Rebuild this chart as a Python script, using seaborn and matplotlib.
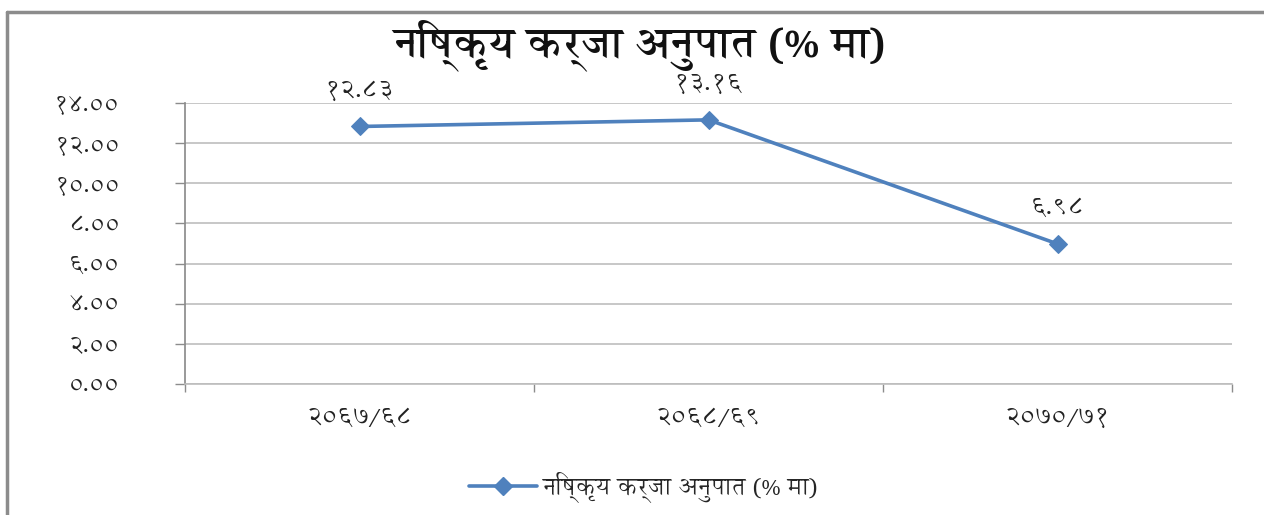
import matplotlib
matplotlib.use("Agg")
import matplotlib.pyplot as plt
from matplotlib import font_manager
from matplotlib.lines import Line2D
import seaborn as sns
import pandas as pd

# data
years = ["२०६७/६८", "२०६८/६९", "२०७०/७१"]
npl_ratio = [12.83, 13.16, 6.98]
title = "निष्कृय कर्जा अनुपात (% मा)"
y_ticks = [0, 2, 4, 6, 8, 10, 12, 14]

DEV = str.maketrans("0123456789", "०१२३४५६७८९")

def dev(num, fmt="{:.2f}"):
    return fmt.format(num).translate(DEV)

# Annapurna SIL has the nepali style digits of the original
names = {f.name for f in font_manager.fontManager.ttflist}
dev_font = "Annapurna SIL"
if dev_font not in names:
    dev_font = "Lohit Devanagari" if "Lohit Devanagari" in names else "Noto Sans Devanagari"

sns.set_theme(style="white")
plt.rcParams["font.family"] = [dev_font, "DejaVu Sans"]

df = pd.DataFrame({"year": years, "ratio": npl_ratio})

fig = plt.figure(figsize=(12.64, 5.15), dpi=100)
ax = fig.add_axes([0.1464, 0.2544, 0.8283, 0.5456])

blue = "#4F81BD"
sns.lineplot(data=df, x="year", y="ratio", ax=ax, color=blue, linewidth=2.6,
             marker="D", markersize=9, markeredgecolor=blue, sort=False,
             label=title, legend=False)

for i, v in enumerate(npl_ratio):
    ax.annotate(dev(v), (i, v), xytext=(0, 25), textcoords="offset points",
                ha="center", va="center", fontsize=19, color="#222222")

ax.set_xlim(-0.5, 2.5)
ax.set_ylim(0, 14)
ax.set_yticks(y_ticks)
ax.set_yticklabels([dev(t) for t in y_ticks], fontsize=18, color="#222222")
ax.set_xticks(range(len(years)))
ax.set_xticklabels(years, fontsize=19, color="#222222")
ax.set_xticks([-0.5, 0.5, 1.5, 2.5], minor=True)
ax.tick_params(axis="x", which="major", length=0, pad=17)
ax.tick_params(axis="x", which="minor", length=6, color="#8c8c8c", width=1, bottom=True)
ax.tick_params(axis="y", length=7, color="#8c8c8c", width=1, pad=40, left=True)
ax.set_xlabel("")
ax.set_ylabel("")

ax.yaxis.grid(True, color="#bdbdbd", linewidth=1.2)
ax.xaxis.grid(False)
for side in ["top", "right"]:
    ax.spines[side].set_visible(False)
ax.spines["left"].set_color("#8c8c8c")
ax.spines["bottom"].set_color("#bdbdbd")
ax.spines["bottom"].set_linewidth(1.2)

fig.text(0.506, 0.913, title, ha="center", va="center", fontsize=31,
         fontweight="bold", color="#111111")

handle = Line2D([], [], color=blue, linewidth=2.6, marker="D", markersize=9)
fig.legend([handle], [title], loc="center", bbox_to_anchor=(0.509, 0.054),
           frameon=False, fontsize=17.5, handlelength=2.8, handletextpad=0.2)

# outer chart border (top and left edges)
fig.add_artist(Line2D([0.0055, 1.0], [0.976, 0.976], color="#8c8c8c", linewidth=2.5,
                      transform=fig.transFigure))
fig.add_artist(Line2D([0.0055, 0.0055], [0.0, 0.976], color="#8c8c8c", linewidth=2.5,
                      transform=fig.transFigure))

fig.savefig("out.png", dpi=100, facecolor="white")
